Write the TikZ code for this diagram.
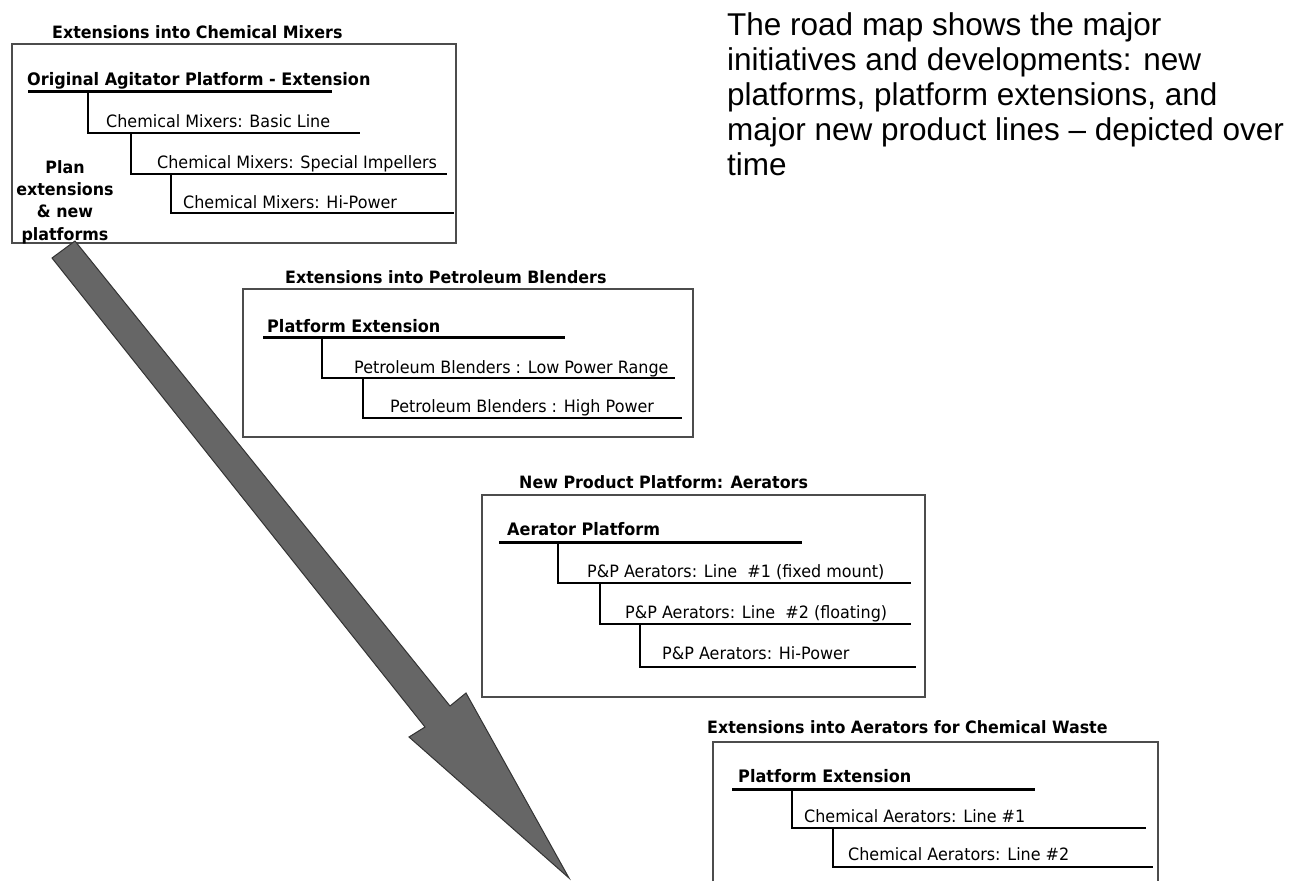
\documentclass[tikz,border=0pt]{standalone}
\usepackage{fontspec}
\newfontfamily\boxfont[FakeStretch=0.94]{DejaVu Sans}
\newfontfamily\boxboldfont[FakeStretch=0.935]{DejaVu Sans}
\newfontfamily\notefont{Liberation Sans}
\begin{document}
\begin{tikzpicture}[x=1pt,y=-1pt,
  frame/.style={draw=black!70, line width=1.2pt},
  platline/.style={line width=3pt},
  treeline/.style={line width=2pt},
  boxtitle/.style={anchor=base west, inner sep=0pt, font=\boxboldfont\bfseries\fontsize{17}{19}\selectfont},
  boxhead/.style={anchor=base west, inner sep=0pt, font=\boxboldfont\bfseries\fontsize{17.2}{19}\selectfont},
  item/.style={anchor=base west, inner sep=0pt, font=\boxfont\fontsize{17}{19}\selectfont},
  note/.style={anchor=base west, inner sep=0pt, font=\notefont\fontsize{31.5}{35}\selectfont},
  bigarrow/.style={fill=black!60, draw=black!80, line width=1pt, line join=miter}
]
\useasboundingbox[fill=white] (0,0) rectangle (1289,881);

% explanatory note, top right
\node[note] (note1) at (727,35) {The road map shows the major};
\node[note] (note2) at (727,70) {initiatives and developments: new};
\node[note] (note3) at (727,105) {platforms, platform extensions, and};
\node[note] (note4) at (727,140) {major new product lines \textendash\ depicted over};
\node[note] (note5) at (727,175) {time};

% box 1: chemical mixers
\draw[frame] (12,44) rectangle (456,243);
\node[boxtitle] (t1) at (52,38) {Extensions into Chemical Mixers};
\node[boxhead] (h1) at (27,85) {Original Agitator Platform - Extension};
\draw[platline] (28,91) -- (332,91);
\node[item] (a1) at (106,127) {Chemical Mixers: Basic Line};
\draw[treeline] (88,91) |- (360,133);
\node[item] (a2) at (157,168) {Chemical Mixers: Special Impellers};
\draw[treeline] (131,133) |- (447,174);
\node[item] (a3) at (183,208) {Chemical Mixers: Hi-Power};
\draw[treeline] (171,174) |- (454,213);
\node[anchor=north, inner sep=0pt, align=center,
      font=\boxboldfont\bfseries\fontsize{17}{22.3}\selectfont] (plan) at (65,160)
  {Plan\\extensions\\\& new\\platforms};

% box 2: petroleum blenders
\draw[frame] (243,289) rectangle (693,437);
\node[boxtitle] (t2) at (285,283) {Extensions into Petroleum Blenders};
\node[boxhead] (h2) at (267,332) {Platform Extension};
\draw[platline] (263,337) -- (565,337);
\node[item] (b1) at (354,373) {Petroleum Blenders : Low Power Range};
\draw[treeline] (322,337) |- (675,378);
\node[item] (b2) at (390,412) {Petroleum Blenders : High Power};
\draw[treeline] (363,378) |- (682,418);

% box 3: aerators
\draw[frame] (482,495) rectangle (925,697);
\node[boxtitle] (t3) at (519,488) {New Product Platform: Aerators};
\node[boxhead] (h3) at (507,535) {Aerator Platform};
\draw[platline] (499,542) -- (802,542);
\node[item] (c1) at (587,577) {P\&P Aerators: Line\ \ \#1 (fixed mount)};
\draw[treeline] (558,542) |- (911,583);
\node[item] (c2) at (625,618) {P\&P Aerators: Line\ \ \#2 (floating)};
\draw[treeline] (600,583) |- (911,624);
\node[item] (c3) at (662,659) {P\&P Aerators: Hi-Power};
\draw[treeline] (640,624) |- (916,667);

% box 4: aerators for chemical waste (runs off the bottom edge)
\draw[frame] (713,881) |- (1158,742) -- (1158,881);
\node[boxtitle] (t4) at (707,733) {Extensions into Aerators for Chemical Waste};
\node[boxhead] (h4) at (738,782) {Platform Extension};
\draw[platline] (732,789) -- (1035,789);
\node[item] (d1) at (804,822) {Chemical Aerators: Line \#1};
\draw[treeline] (792,789) |- (1146,828);
\node[item] (d2) at (848,860) {Chemical Aerators: Line \#2};
\draw[treeline] (833,828) |- (1153,867);

% time arrow
\draw[bigarrow] (52,258) -- (75,241) -- (450,706) -- (466,693) -- (569,878)
  -- (409,737) -- (425,727) -- cycle;
\end{tikzpicture}
\end{document}
